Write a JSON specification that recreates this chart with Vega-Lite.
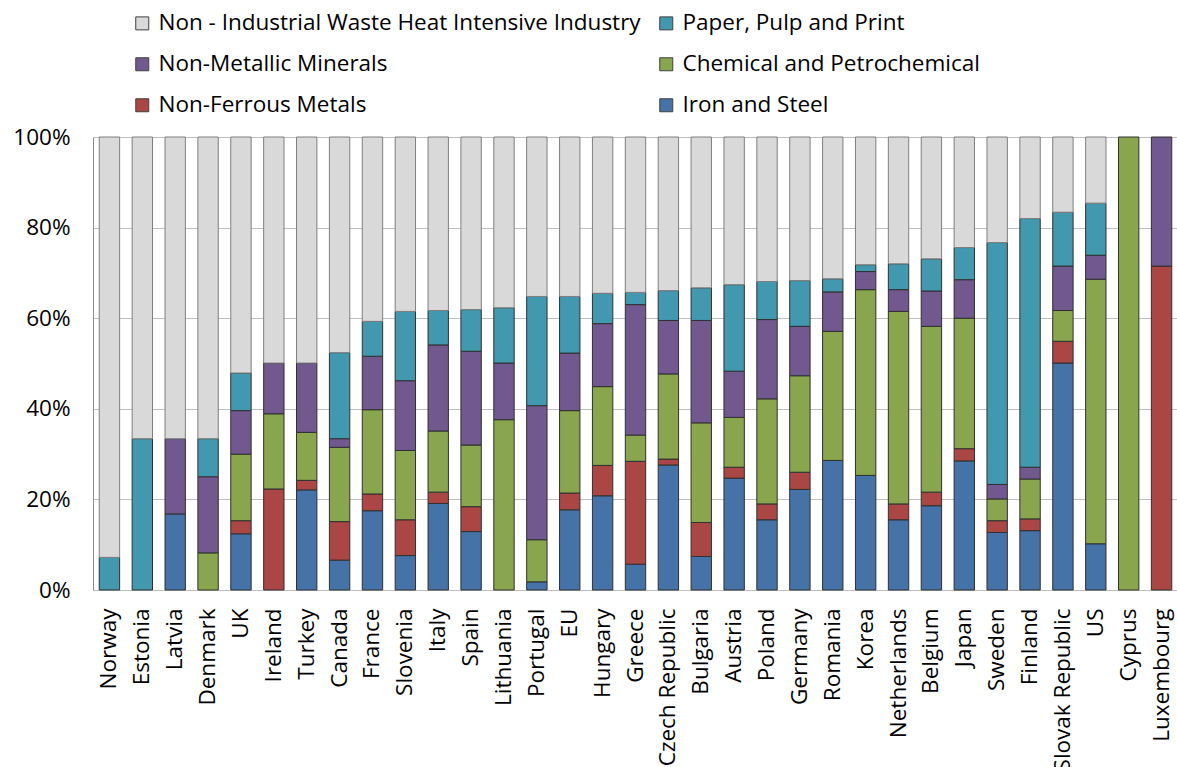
{
  "$schema": "https://vega.github.io/schema/vega-lite/v6.json",
  "width": 1085,
  "height": 453,
  "autosize": {"type": "none"},
  "padding": {"left": 93, "top": 137, "right": 0, "bottom": 177},
  "background": "white",
  "config": {
    "view": {"stroke": null},
    "font": "Open Sans"
  },
  "data": {
    "values": [
      {"country":"Norway","sector":"Paper, Pulp and Print","value":7.2},
      {"country":"Norway","sector":"Non - Industrial Waste Heat Intensive Industry","value":92.8},
      {"country":"Estonia","sector":"Paper, Pulp and Print","value":33.4},
      {"country":"Estonia","sector":"Non - Industrial Waste Heat Intensive Industry","value":66.6},
      {"country":"Latvia","sector":"Iron and Steel","value":16.8},
      {"country":"Latvia","sector":"Non-Metallic Minerals","value":16.6},
      {"country":"Latvia","sector":"Non - Industrial Waste Heat Intensive Industry","value":66.6},
      {"country":"Denmark","sector":"Chemical and Petrochemical","value":8.2},
      {"country":"Denmark","sector":"Non-Metallic Minerals","value":16.8},
      {"country":"Denmark","sector":"Paper, Pulp and Print","value":8.4},
      {"country":"Denmark","sector":"Non - Industrial Waste Heat Intensive Industry","value":66.6},
      {"country":"UK","sector":"Iron and Steel","value":12.4},
      {"country":"UK","sector":"Non-Ferrous Metals","value":2.9},
      {"country":"UK","sector":"Chemical and Petrochemical","value":14.7},
      {"country":"UK","sector":"Non-Metallic Minerals","value":9.6},
      {"country":"UK","sector":"Paper, Pulp and Print","value":8.3},
      {"country":"UK","sector":"Non - Industrial Waste Heat Intensive Industry","value":52.1},
      {"country":"Ireland","sector":"Non-Ferrous Metals","value":22.3},
      {"country":"Ireland","sector":"Chemical and Petrochemical","value":16.6},
      {"country":"Ireland","sector":"Non-Metallic Minerals","value":11.2},
      {"country":"Ireland","sector":"Non - Industrial Waste Heat Intensive Industry","value":49.9},
      {"country":"Turkey","sector":"Iron and Steel","value":22.1},
      {"country":"Turkey","sector":"Non-Ferrous Metals","value":2.1},
      {"country":"Turkey","sector":"Chemical and Petrochemical","value":10.6},
      {"country":"Turkey","sector":"Non-Metallic Minerals","value":15.3},
      {"country":"Turkey","sector":"Non - Industrial Waste Heat Intensive Industry","value":49.9},
      {"country":"Canada","sector":"Iron and Steel","value":6.6},
      {"country":"Canada","sector":"Non-Ferrous Metals","value":8.5},
      {"country":"Canada","sector":"Chemical and Petrochemical","value":16.4},
      {"country":"Canada","sector":"Non-Metallic Minerals","value":1.9},
      {"country":"Canada","sector":"Paper, Pulp and Print","value":19.0},
      {"country":"Canada","sector":"Non - Industrial Waste Heat Intensive Industry","value":47.6},
      {"country":"France","sector":"Iron and Steel","value":17.5},
      {"country":"France","sector":"Non-Ferrous Metals","value":3.7},
      {"country":"France","sector":"Chemical and Petrochemical","value":18.6},
      {"country":"France","sector":"Non-Metallic Minerals","value":11.8},
      {"country":"France","sector":"Paper, Pulp and Print","value":7.7},
      {"country":"France","sector":"Non - Industrial Waste Heat Intensive Industry","value":40.7},
      {"country":"Slovenia","sector":"Iron and Steel","value":7.6},
      {"country":"Slovenia","sector":"Non-Ferrous Metals","value":7.9},
      {"country":"Slovenia","sector":"Chemical and Petrochemical","value":15.3},
      {"country":"Slovenia","sector":"Non-Metallic Minerals","value":15.4},
      {"country":"Slovenia","sector":"Paper, Pulp and Print","value":15.3},
      {"country":"Slovenia","sector":"Non - Industrial Waste Heat Intensive Industry","value":38.5},
      {"country":"Italy","sector":"Iron and Steel","value":19.1},
      {"country":"Italy","sector":"Non-Ferrous Metals","value":2.5},
      {"country":"Italy","sector":"Chemical and Petrochemical","value":13.5},
      {"country":"Italy","sector":"Non-Metallic Minerals","value":19.0},
      {"country":"Italy","sector":"Paper, Pulp and Print","value":7.6},
      {"country":"Italy","sector":"Non - Industrial Waste Heat Intensive Industry","value":38.3},
      {"country":"Spain","sector":"Iron and Steel","value":12.9},
      {"country":"Spain","sector":"Non-Ferrous Metals","value":5.5},
      {"country":"Spain","sector":"Chemical and Petrochemical","value":13.6},
      {"country":"Spain","sector":"Non-Metallic Minerals","value":20.7},
      {"country":"Spain","sector":"Paper, Pulp and Print","value":9.2},
      {"country":"Spain","sector":"Non - Industrial Waste Heat Intensive Industry","value":38.1},
      {"country":"Lithuania","sector":"Chemical and Petrochemical","value":37.6},
      {"country":"Lithuania","sector":"Non-Metallic Minerals","value":12.5},
      {"country":"Lithuania","sector":"Paper, Pulp and Print","value":12.2},
      {"country":"Lithuania","sector":"Non - Industrial Waste Heat Intensive Industry","value":37.7},
      {"country":"Portugal","sector":"Iron and Steel","value":1.8},
      {"country":"Portugal","sector":"Chemical and Petrochemical","value":9.3},
      {"country":"Portugal","sector":"Non-Metallic Minerals","value":29.6},
      {"country":"Portugal","sector":"Paper, Pulp and Print","value":24.1},
      {"country":"Portugal","sector":"Non - Industrial Waste Heat Intensive Industry","value":35.2},
      {"country":"EU","sector":"Iron and Steel","value":17.7},
      {"country":"EU","sector":"Non-Ferrous Metals","value":3.7},
      {"country":"EU","sector":"Chemical and Petrochemical","value":18.2},
      {"country":"EU","sector":"Non-Metallic Minerals","value":12.7},
      {"country":"EU","sector":"Paper, Pulp and Print","value":12.5},
      {"country":"EU","sector":"Non - Industrial Waste Heat Intensive Industry","value":35.2},
      {"country":"Hungary","sector":"Iron and Steel","value":20.8},
      {"country":"Hungary","sector":"Non-Ferrous Metals","value":6.7},
      {"country":"Hungary","sector":"Chemical and Petrochemical","value":17.4},
      {"country":"Hungary","sector":"Non-Metallic Minerals","value":13.9},
      {"country":"Hungary","sector":"Paper, Pulp and Print","value":6.7},
      {"country":"Hungary","sector":"Non - Industrial Waste Heat Intensive Industry","value":34.5},
      {"country":"Greece","sector":"Iron and Steel","value":5.7},
      {"country":"Greece","sector":"Non-Ferrous Metals","value":22.7},
      {"country":"Greece","sector":"Chemical and Petrochemical","value":5.8},
      {"country":"Greece","sector":"Non-Metallic Minerals","value":28.8},
      {"country":"Greece","sector":"Paper, Pulp and Print","value":2.7},
      {"country":"Greece","sector":"Non - Industrial Waste Heat Intensive Industry","value":34.3},
      {"country":"Czech Republic","sector":"Iron and Steel","value":27.6},
      {"country":"Czech Republic","sector":"Non-Ferrous Metals","value":1.3},
      {"country":"Czech Republic","sector":"Chemical and Petrochemical","value":18.8},
      {"country":"Czech Republic","sector":"Non-Metallic Minerals","value":11.8},
      {"country":"Czech Republic","sector":"Paper, Pulp and Print","value":6.6},
      {"country":"Czech Republic","sector":"Non - Industrial Waste Heat Intensive Industry","value":33.9},
      {"country":"Bulgaria","sector":"Iron and Steel","value":7.4},
      {"country":"Bulgaria","sector":"Non-Ferrous Metals","value":7.5},
      {"country":"Bulgaria","sector":"Chemical and Petrochemical","value":22.0},
      {"country":"Bulgaria","sector":"Non-Metallic Minerals","value":22.6},
      {"country":"Bulgaria","sector":"Paper, Pulp and Print","value":7.2},
      {"country":"Bulgaria","sector":"Non - Industrial Waste Heat Intensive Industry","value":33.3},
      {"country":"Austria","sector":"Iron and Steel","value":24.7},
      {"country":"Austria","sector":"Non-Ferrous Metals","value":2.4},
      {"country":"Austria","sector":"Chemical and Petrochemical","value":11.0},
      {"country":"Austria","sector":"Non-Metallic Minerals","value":10.2},
      {"country":"Austria","sector":"Paper, Pulp and Print","value":19.1},
      {"country":"Austria","sector":"Non - Industrial Waste Heat Intensive Industry","value":32.6},
      {"country":"Poland","sector":"Iron and Steel","value":15.5},
      {"country":"Poland","sector":"Non-Ferrous Metals","value":3.5},
      {"country":"Poland","sector":"Chemical and Petrochemical","value":23.2},
      {"country":"Poland","sector":"Non-Metallic Minerals","value":17.5},
      {"country":"Poland","sector":"Paper, Pulp and Print","value":8.4},
      {"country":"Poland","sector":"Non - Industrial Waste Heat Intensive Industry","value":31.9},
      {"country":"Germany","sector":"Iron and Steel","value":22.2},
      {"country":"Germany","sector":"Non-Ferrous Metals","value":3.8},
      {"country":"Germany","sector":"Chemical and Petrochemical","value":21.3},
      {"country":"Germany","sector":"Non-Metallic Minerals","value":10.9},
      {"country":"Germany","sector":"Paper, Pulp and Print","value":10.1},
      {"country":"Germany","sector":"Non - Industrial Waste Heat Intensive Industry","value":31.7},
      {"country":"Romania","sector":"Iron and Steel","value":28.6},
      {"country":"Romania","sector":"Chemical and Petrochemical","value":28.5},
      {"country":"Romania","sector":"Non-Metallic Minerals","value":8.7},
      {"country":"Romania","sector":"Paper, Pulp and Print","value":2.9},
      {"country":"Romania","sector":"Non - Industrial Waste Heat Intensive Industry","value":31.3},
      {"country":"Korea","sector":"Iron and Steel","value":25.3},
      {"country":"Korea","sector":"Chemical and Petrochemical","value":41.0},
      {"country":"Korea","sector":"Non-Metallic Minerals","value":4.0},
      {"country":"Korea","sector":"Paper, Pulp and Print","value":1.5},
      {"country":"Korea","sector":"Non - Industrial Waste Heat Intensive Industry","value":28.2},
      {"country":"Netherlands","sector":"Iron and Steel","value":15.5},
      {"country":"Netherlands","sector":"Non-Ferrous Metals","value":3.5},
      {"country":"Netherlands","sector":"Chemical and Petrochemical","value":42.5},
      {"country":"Netherlands","sector":"Non-Metallic Minerals","value":4.8},
      {"country":"Netherlands","sector":"Paper, Pulp and Print","value":5.7},
      {"country":"Netherlands","sector":"Non - Industrial Waste Heat Intensive Industry","value":28.0},
      {"country":"Belgium","sector":"Iron and Steel","value":18.6},
      {"country":"Belgium","sector":"Non-Ferrous Metals","value":3.0},
      {"country":"Belgium","sector":"Chemical and Petrochemical","value":36.6},
      {"country":"Belgium","sector":"Non-Metallic Minerals","value":7.8},
      {"country":"Belgium","sector":"Paper, Pulp and Print","value":7.1},
      {"country":"Belgium","sector":"Non - Industrial Waste Heat Intensive Industry","value":26.9},
      {"country":"Japan","sector":"Iron and Steel","value":28.5},
      {"country":"Japan","sector":"Non-Ferrous Metals","value":2.7},
      {"country":"Japan","sector":"Chemical and Petrochemical","value":28.8},
      {"country":"Japan","sector":"Non-Metallic Minerals","value":8.5},
      {"country":"Japan","sector":"Paper, Pulp and Print","value":7.1},
      {"country":"Japan","sector":"Non - Industrial Waste Heat Intensive Industry","value":24.4},
      {"country":"Sweden","sector":"Iron and Steel","value":12.7},
      {"country":"Sweden","sector":"Non-Ferrous Metals","value":2.6},
      {"country":"Sweden","sector":"Chemical and Petrochemical","value":4.8},
      {"country":"Sweden","sector":"Non-Metallic Minerals","value":3.2},
      {"country":"Sweden","sector":"Paper, Pulp and Print","value":53.4},
      {"country":"Sweden","sector":"Non - Industrial Waste Heat Intensive Industry","value":23.3},
      {"country":"Finland","sector":"Iron and Steel","value":13.1},
      {"country":"Finland","sector":"Non-Ferrous Metals","value":2.6},
      {"country":"Finland","sector":"Chemical and Petrochemical","value":8.8},
      {"country":"Finland","sector":"Non-Metallic Minerals","value":2.6},
      {"country":"Finland","sector":"Paper, Pulp and Print","value":54.9},
      {"country":"Finland","sector":"Non - Industrial Waste Heat Intensive Industry","value":18.0},
      {"country":"Slovak Republic","sector":"Iron and Steel","value":50.1},
      {"country":"Slovak Republic","sector":"Non-Ferrous Metals","value":4.8},
      {"country":"Slovak Republic","sector":"Chemical and Petrochemical","value":6.8},
      {"country":"Slovak Republic","sector":"Non-Metallic Minerals","value":9.8},
      {"country":"Slovak Republic","sector":"Paper, Pulp and Print","value":11.9},
      {"country":"Slovak Republic","sector":"Non - Industrial Waste Heat Intensive Industry","value":16.6},
      {"country":"US","sector":"Iron and Steel","value":10.2},
      {"country":"US","sector":"Chemical and Petrochemical","value":58.4},
      {"country":"US","sector":"Non-Metallic Minerals","value":5.3},
      {"country":"US","sector":"Paper, Pulp and Print","value":11.5},
      {"country":"US","sector":"Non - Industrial Waste Heat Intensive Industry","value":14.6},
      {"country":"Cyprus","sector":"Chemical and Petrochemical","value":100},
      {"country":"Luxembourg","sector":"Non-Ferrous Metals","value":71.5},
      {"country":"Luxembourg","sector":"Non-Metallic Minerals","value":28.5}
    ]
  },
  "transform": [
    {"calculate": "indexof(['Iron and Steel', 'Non-Ferrous Metals', 'Chemical and Petrochemical', 'Non-Metallic Minerals', 'Paper, Pulp and Print', 'Non - Industrial Waste Heat Intensive Industry'], datum.sector)", "as": "stack_rank"}
  ],
  "mark": {"type": "bar", "strokeWidth": 1},
  "encoding": {
    "x": {
      "field": "country",
      "type": "nominal",
      "sort": null,
      "scale": {"paddingInner": 0.38, "paddingOuter": 0.19},
      "axis": {
        "title": null,
        "labelAngle": -90,
        "labelFontSize": 22.5,
        "labelColor": "#000000",
        "labelPadding": 18,
        "ticks": false,
        "domainColor": "#bfbfbf",
        "labelOverlap": false,
        "labelLimit": 0
      }
    },
    "y": {
      "field": "value",
      "type": "quantitative",
      "stack": "normalize",
      "scale": {"domain": [0, 1], "nice": false},
      "axis": {
        "title": null,
        "format": ".0%",
        "values": [0, 0.2, 0.4, 0.6, 0.8, 1],
        "labelFontSize": 22.5,
        "labelColor": "#000000",
        "labelPadding": 23,
        "ticks": false,
        "domainColor": "#8c8c8c",
        "gridColor": "#bfbfbf",
        "gridWidth": 1
      }
    },
    "order": {"field": "stack_rank", "type": "quantitative", "sort": "ascending"},
    "color": {
      "field": "sector",
      "type": "nominal",
      "scale": {
        "domain": ["Non - Industrial Waste Heat Intensive Industry", "Non-Metallic Minerals", "Non-Ferrous Metals", "Paper, Pulp and Print", "Chemical and Petrochemical", "Iron and Steel"],
        "range": ["#d9d9d9", "#71588f", "#aa4643", "#4198af", "#89a54e", "#4572a7"]
      },
      "legend": {
        "title": null,
        "orient": "none",
        "legendX": 38,
        "legendY": -125,
        "columns": 2,
        "columnPadding": 14,
        "rowPadding": 18,
        "symbolType": "square",
        "symbolSize": 169,
        "symbolStrokeColor": "#404040",
        "symbolStrokeWidth": 1,
        "labelFontSize": 22.5,
        "labelColor": "#000000",
        "labelLimit": 0,
        "labelOffset": 5
      }
    },
    "stroke": {
      "condition": {"test": "datum.sector === 'Non - Industrial Waste Heat Intensive Industry'", "value": "#7f7f7f"},
      "value": "#303030"
    }
  }
}
